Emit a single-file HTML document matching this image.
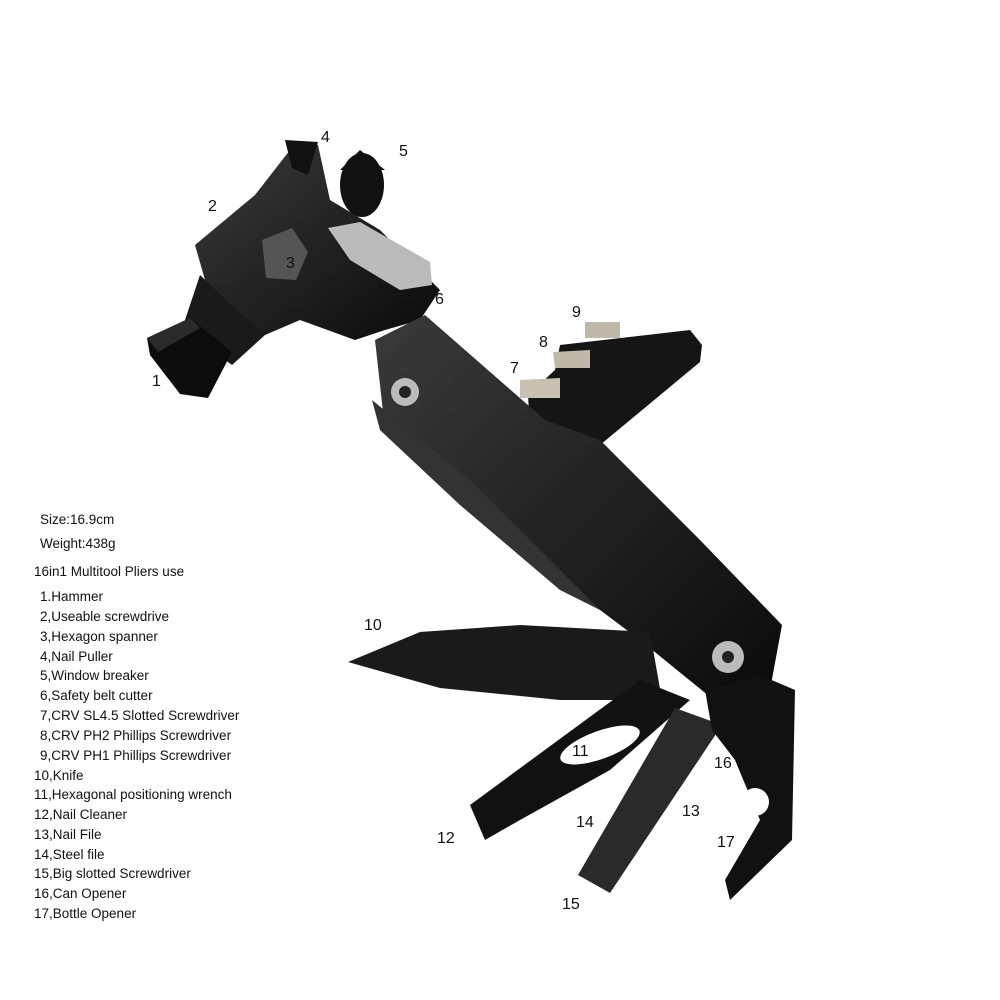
<!DOCTYPE html>
<html><head><meta charset="utf-8"><style>
html,body{margin:0;padding:0;background:#fff;}
#c{position:relative;width:1000px;height:1000px;overflow:hidden;font-family:"Liberation Sans",sans-serif;}
.t{position:absolute;font-size:13.5px;color:#111;white-space:nowrap;}
.n{position:absolute;font-size:16px;color:#111;}
</style></head><body><div id="c">
<svg width="1000" height="1000" style="position:absolute;left:0;top:0">
<defs><linearGradient id="g" x1="0" y1="0" x2="1" y2="1"><stop offset="0" stop-color="#3a3a3a"/><stop offset="1" stop-color="#0a0a0a"/></linearGradient></defs>
<!-- bit holder -->
<polygon points="560,345 690,330 702,345 700,362 600,445 530,430 528,395 555,370" fill="#151515"/>
<polygon points="520,380 560,378 560,398 520,398" fill="#c8c0b0"/>
<polygon points="553,352 590,350 590,368 555,368" fill="#c0b8a8"/>
<polygon points="585,322 620,322 620,338 585,338" fill="#c0b8a8"/>
<!-- hammer head -->
<polygon points="195,245 255,195 290,150 318,145 330,200 380,230 440,290 420,320 385,330 355,340 300,320 265,335 240,325 205,280" fill="url(#g)"/>
<polygon points="200,275 245,318 265,335 232,365 205,345 185,320" fill="#1a1a1a"/>
<polygon points="285,140 318,142 308,175 292,168" fill="#111"/>
<ellipse cx="362" cy="185" rx="22" ry="32" fill="#111"/>
<polygon points="340,170 360,150 385,170" fill="#111"/>
<polygon points="328,228 360,222 430,262 432,285 400,290 350,260" fill="#bbb"/>
<polygon points="262,240 292,228 308,252 296,280 266,278" fill="#555"/>
<polygon points="147,338 190,318 232,352 208,398 180,394 150,355" fill="#0c0c0c"/>
<polygon points="147,338 190,318 200,328 158,352" fill="#2a2a2a"/>
<!-- handle -->
<polygon points="375,340 425,315 545,420 600,440 700,540 782,625 770,690 720,705 640,640 560,580 470,500 385,430" fill="url(#g)"/>
<polygon points="372,400 470,480 590,600 600,610 560,590 460,505 380,430" fill="#333"/>
<circle cx="405" cy="392" r="14" fill="#bbb"/><circle cx="405" cy="392" r="6" fill="#222"/>
<circle cx="728" cy="657" r="16" fill="#bbb"/><circle cx="728" cy="657" r="6" fill="#222"/>
<!-- knife -->
<polygon points="348,662 420,632 520,625 650,632 662,700 560,700 440,688" fill="#1a1a1a"/>
<!-- lower tools -->
<polygon points="470,805 640,680 690,700 610,770 520,820 485,840" fill="#111"/>
<ellipse cx="600" cy="745" rx="42" ry="14" fill="#fff" transform="rotate(-20 600 745)"/>
<polygon points="578,875 675,708 722,725 610,893" fill="#2a2a2a"/>
<polygon points="705,690 760,675 795,690 792,840 730,900 725,880 760,820 735,760 712,730" fill="#111"/>
<circle cx="755" cy="802" r="14" fill="#fff"/>
</svg>
<div class="t" style="left:40px;top:512px">Size:16.9cm</div>
<div class="t" style="left:40px;top:536px">Weight:438g</div>
<div class="t" style="left:34px;top:564px">16in1 Multitool Pliers use</div>
<div class="t" style="left:40px;top:589px">1.Hammer</div>
<div class="t" style="left:40px;top:609px">2,Useable screwdrive</div>
<div class="t" style="left:40px;top:629px">3,Hexagon spanner</div>
<div class="t" style="left:40px;top:649px">4,Nail Puller</div>
<div class="t" style="left:40px;top:668px">5,Window breaker</div>
<div class="t" style="left:40px;top:688px">6,Safety belt cutter</div>
<div class="t" style="left:40px;top:708px">7,CRV SL4.5 Slotted Screwdriver</div>
<div class="t" style="left:40px;top:728px">8,CRV PH2 Phillips Screwdriver</div>
<div class="t" style="left:40px;top:748px">9,CRV PH1 Phillips Screwdriver</div>
<div class="t" style="left:34px;top:768px">10,Knife</div>
<div class="t" style="left:34px;top:787px">11,Hexagonal positioning wrench</div>
<div class="t" style="left:34px;top:807px">12,Nail Cleaner</div>
<div class="t" style="left:34px;top:827px">13,Nail File</div>
<div class="t" style="left:34px;top:847px">14,Steel file</div>
<div class="t" style="left:34px;top:866px">15,Big slotted Screwdriver</div>
<div class="t" style="left:34px;top:886px">16,Can Opener</div>
<div class="t" style="left:34px;top:906px">17,Bottle Opener</div>
<div class="n" style="left:152px;top:373px">1</div>
<div class="n" style="left:208px;top:198px">2</div>
<div class="n" style="left:286px;top:255px">3</div>
<div class="n" style="left:321px;top:129px">4</div>
<div class="n" style="left:399px;top:143px">5</div>
<div class="n" style="left:435px;top:291px">6</div>
<div class="n" style="left:510px;top:360px">7</div>
<div class="n" style="left:539px;top:334px">8</div>
<div class="n" style="left:572px;top:304px">9</div>
<div class="n" style="left:364px;top:617px">10</div>
<div class="n" style="left:572px;top:743px">11</div>
<div class="n" style="left:437px;top:830px">12</div>
<div class="n" style="left:682px;top:803px">13</div>
<div class="n" style="left:576px;top:814px">14</div>
<div class="n" style="left:562px;top:896px">15</div>
<div class="n" style="left:714px;top:755px">16</div>
<div class="n" style="left:717px;top:834px">17</div>
</div></body></html>
